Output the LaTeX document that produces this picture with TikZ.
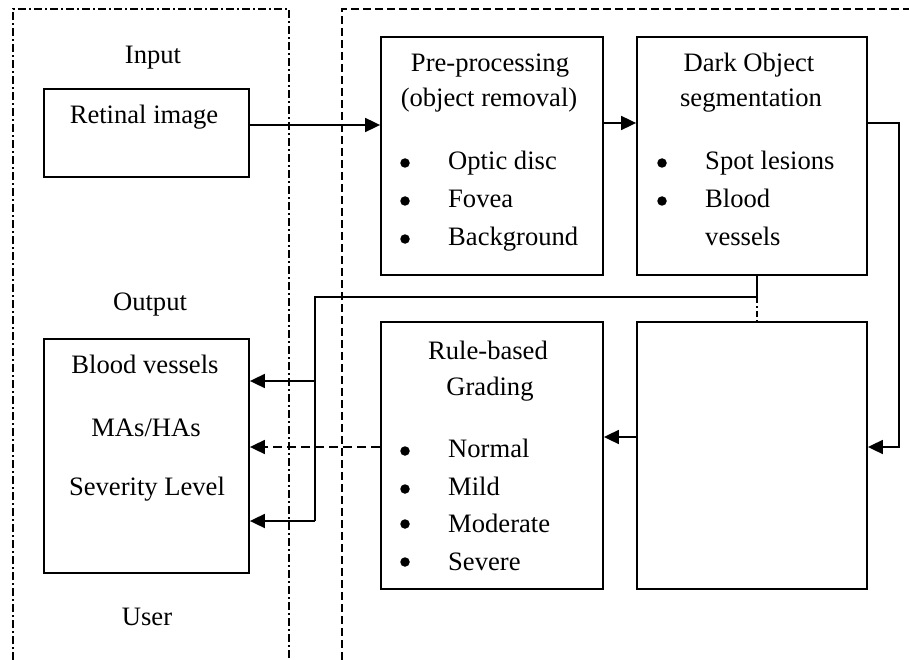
\documentclass[tikz,border=0pt]{standalone}
\usepackage{fontspec}
\setmainfont{Liberation Serif}
\usetikzlibrary{arrows.meta}
\begin{document}
\begin{tikzpicture}[x=1pt,y=-1pt,
  every node/.style={font=\fontsize{26.6}{30}\selectfont},
  box/.style={draw, line width=1.8pt, inner sep=0pt},
  lbl/.style={inner sep=0pt, anchor=base},
  item/.style={inner sep=0pt, anchor=base west},
  bul/.style={circle, fill, inner sep=0pt, minimum size=9.5pt},
  conn/.style={line width=1.8pt},
  tip/.style={-{Triangle[length=15pt,width=14pt]}},
  arr/.style={conn, tip},
  dashdotline/.style={line width=1.4pt, dash pattern=on 8pt off 3pt on 2pt off 3pt},
  dashline/.style={line width=1.4pt, dash pattern=on 8pt off 4pt}
]
\useasboundingbox (0,0) rectangle (909,660);
% lanes
\draw[dashdotline] (13,660) -- (13,9) -- (289,9) -- (289,660);
\draw[dashline] (342,660) -- (342,9) -- (909,9);
% boxes
\node[box, minimum width=205pt, minimum height=88pt] (retinal) at (146.5,133) {};
\node[box, minimum width=222pt, minimum height=238pt] (pre) at (492,156) {};
\node[box, minimum width=230pt, minimum height=238pt] (dark) at (752,156) {};
\node[box, minimum width=205pt, minimum height=234pt] (output) at (146.5,456) {};
\node[box, minimum width=222pt, minimum height=267pt] (rule) at (492,455.5) {};
\node[box, minimum width=230pt, minimum height=267pt] (br) at (752,455.5) {};
% labels
\node[lbl] (tin) at (153,64) {Input};
\node[lbl] (tout) at (150,310) {Output};
\node[lbl] (tuser) at (147,625) {User};
\node[lbl] (tret) at (144,124) {Retinal image};
\node[lbl] (tpre1) at (490,72) {Pre-processing};
\node[lbl] (tpre2) at (489,107) {(object removal)};
\node[bul] (bp1) at (405,163) {};
\node[bul] (bp2) at (405,201) {};
\node[bul] (bp3) at (405,239) {};
\node[item] (ip1) at (448,170) {Optic disc};
\node[item] (ip2) at (448,208) {Fovea};
\node[item] (ip3) at (448,245) {Background};
\node[lbl] (tdark1) at (749,72) {Dark Object};
\node[lbl] (tdark2) at (751,107) {segmentation};
\node[bul] (bd1) at (662,163) {};
\node[bul] (bd2) at (662,201) {};
\node[item] (id1) at (705,170) {Spot lesions};
\node[item] (id2) at (705,208) {Blood};
\node[item] (id3) at (705,245) {vessels};
\node[lbl] (to1) at (145,373) {Blood vessels};
\node[lbl] (to2) at (146,436) {MAs/HAs};
\node[lbl] (to3) at (147,495) {Severity Level};
\node[lbl] (trule1) at (488,359) {Rule-based};
\node[lbl] (trule2) at (490,395) {Grading};
\node[bul] (br1) at (405,451) {};
\node[bul] (br2) at (405,489) {};
\node[bul] (br3) at (405,524) {};
\node[bul] (br4) at (405,562) {};
\node[item] (ir1) at (448,457) {Normal};
\node[item] (ir2) at (448,495) {Mild};
\node[item] (ir3) at (448,532) {Moderate};
\node[item] (ir4) at (448,570) {Severe};
% helper coordinates
\coordinate (y125) at (0,125);
\coordinate (y123) at (0,123);
\coordinate (y447) at (0,447);
\coordinate (y437) at (0,437);
\coordinate (y381) at (0,381);
\coordinate (y521) at (0,521);
\coordinate (x757) at (757,0);
\coordinate (ra) at (899,123);
\coordinate (rb) at (899,447);
\coordinate (da) at (757,297);
\coordinate (db) at (315,297);
\coordinate (dc) at (315,381);
\coordinate (dd) at (315,521);
% connectors
\draw[arr] (retinal.east |- y125) -- (pre.west |- y125);
\draw[arr] (pre.east |- y123) -- (dark.west |- y123);
\draw[arr] (dark.east |- y123) -- (ra) -- (rb) -- (br.east |- y447);
\draw[arr] (br.west |- y437) -- (rule.east |- y437);
\draw[conn] (dark.south -| x757) -- (da) -- (db) -- (dd);
\draw[arr] (dd) -- (output.east |- y521);
\draw[arr] (dc) -- (output.east |- y381);
\draw[line width=1.2pt, dash pattern=on 6pt off 3pt on 2pt off 3pt] (da) -- (br.north -| x757);
\draw[conn, tip, dash pattern=on 9pt off 5pt] (rule.west |- y447) -- (output.east |- y447);
\end{tikzpicture}
\end{document}
